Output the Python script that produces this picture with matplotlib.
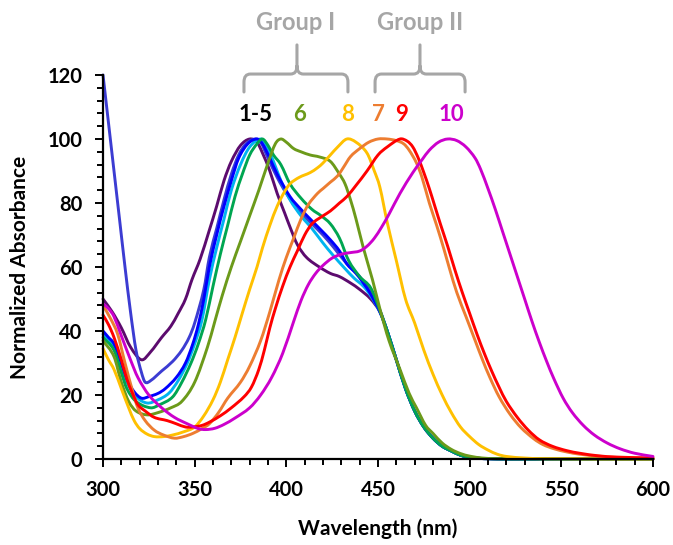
import numpy as np
import matplotlib.pyplot as plt
from matplotlib.path import Path
from matplotlib.patches import PathPatch
from matplotlib.ticker import MultipleLocator

plt.rcParams['font.family'] = ['Lato', 'DejaVu Sans']
plt.rcParams['font.weight'] = 'bold'

# spectra: wavelength (nm) and normalized absorbance
wl_1 = [300, 305, 310, 315, 321, 326, 332, 337, 341, 345, 348.5, 353, 358, 362, 366, 370, 375, 380, 384, 387, 391,
        395, 399, 402, 406, 411, 418, 424, 429, 435, 440, 446, 451, 455, 460, 465, 470, 475, 480, 485, 490, 495,
        500, 505, 510, 520, 600]
abs_1 = [50, 46, 41, 35, 31, 33.5, 38, 41.5, 45.5, 50, 56, 62.5, 71.5, 79, 87, 93, 98, 100, 99, 95.6, 90,
         83, 77, 72.5, 67, 63, 60, 58, 57, 55, 53, 50, 46, 40, 31, 22, 15, 10, 6.5, 4, 2.5, 1.2,
         0.5, 0.2, 0.1, 0, 0]

wl_2 = [300, 303, 306, 309, 312, 315, 318, 321, 323, 326, 332, 338, 343, 347, 350, 355, 358, 362, 366, 370, 374,
        378, 383, 386, 390, 395, 400, 406, 413, 420, 426, 433, 440, 446, 451, 455, 460, 465, 470, 475, 480, 485,
        490, 495, 500, 505, 510, 520, 600]
abs_2 = [120, 105, 90, 75, 60, 46, 34, 27, 24, 24.5, 27.5, 30.5, 34, 38, 42.5, 53, 63, 72, 81, 89, 95,
         98.5, 100, 99, 94, 88, 83, 78, 74, 70, 66, 61, 57, 52, 46.5, 40, 31, 22, 15, 10, 6.5, 4,
         2.5, 1.2, 0.5, 0.2, 0.1, 0, 0]

wl_3 = [300, 303, 306, 310, 313, 317, 321, 325, 330, 334, 340, 345, 349, 352, 355, 358, 362, 366, 370, 374, 379,
        384, 387, 391, 395, 402, 408, 413, 419, 424, 429, 433, 438, 442, 446, 451, 455, 460, 465, 470, 475, 480,
        485, 490, 495, 500, 505, 510, 520, 600]
abs_3 = [40, 38, 36, 30, 25, 21, 19, 19.5, 20.5, 22, 25.5, 30, 36, 42, 50, 60, 70, 79, 87, 94, 98.5,
         100, 98.5, 94, 89, 82, 78, 75, 71.5, 68.5, 65, 61, 58, 55, 51.5, 46, 40, 31, 22, 15, 10, 6.5,
         4, 2.5, 1.2, 0.5, 0.2, 0.1, 0, 0]

wl_4 = [300, 306, 310, 313, 318, 324, 330, 336, 341, 346, 350, 354, 358, 362, 366, 370, 375, 380, 386, 389, 393,
        397, 402, 408, 414, 420, 425, 432, 437, 442, 446, 451, 455, 460, 465, 470, 475, 480, 485, 490, 495, 500,
        505, 510, 520, 600]
abs_4 = [39, 35, 29, 24, 19.5, 17.5, 18.5, 20.6, 24.5, 30, 36, 43.5, 56, 66, 75, 84, 92, 97.5, 100, 98, 93,
         87, 81, 76, 72, 67.5, 64, 59.5, 56.5, 54, 51, 46, 40, 31, 22, 15, 10, 6.5, 4, 2.5, 1.2, 0.5,
         0.2, 0.1, 0, 0]

wl_5 = [300, 306, 310, 313, 318, 326, 331, 338, 343, 348, 352, 356, 360, 364, 368, 372, 376, 380, 384, 387, 390,
        393, 397, 402, 408, 414, 419, 424, 429, 434, 440, 446, 451, 455, 460, 465, 470, 475, 480, 485, 490, 495,
        500, 505, 510, 520, 600]
abs_5 = [38, 34, 27, 22, 18, 16, 17, 19.4, 24, 30, 36, 43.5, 54, 64, 73, 82, 89, 95, 98.5, 100, 98,
         95, 92, 86, 81.5, 78, 76, 73.5, 69, 62, 57, 53.5, 46.5, 40, 31, 22, 15, 10, 6.5, 4, 2.5, 1.2,
         0.5, 0.2, 0.1, 0, 0]

wl_6 = [300, 306, 310, 314, 318, 324, 330, 337, 343, 350, 357, 361, 365, 370, 375, 380, 385, 390, 394, 397, 400,
        404, 408, 413, 418, 424, 429, 432, 435, 438, 442, 447, 451, 456, 462, 467, 471, 476, 480, 485, 490, 495,
        500, 507, 515, 600]
abs_6 = [37, 32, 24, 18, 15, 13.8, 14.5, 16, 18, 24, 35, 43, 51, 60, 68, 76, 84, 92.5, 98.5, 100, 99,
         97, 96, 95, 94.4, 93, 89, 86, 81, 75, 66, 56, 47, 37, 28, 20.5, 16, 10.5, 8, 5, 3, 1.7,
         0.9, 0.3, 0.1, 0]

wl_7 = [300, 304, 308, 312, 316, 319, 323, 328, 333, 339, 344, 349, 354, 358, 363, 368, 375, 380, 386, 391, 396,
        400, 404, 408, 412, 417, 420, 424, 428, 431, 435, 440, 445, 450, 455, 460, 464, 467, 471, 474, 478, 482,
        486, 489, 493, 498, 503, 507, 511, 516, 522, 528, 535, 540, 546, 553, 560, 570, 580, 600]
abs_7 = [48, 44, 39, 30, 21.5, 16, 12, 9, 7.5, 6.5, 7, 8, 9.5, 11, 14.5, 19, 24, 29, 37, 46, 56,
         63, 69, 75, 79.5, 83, 84.5, 86.5, 88.5, 91, 94.5, 97, 99, 100, 100, 99.5, 98.5, 96.5, 92.5, 88, 80, 73,
         65.5, 59.5, 52, 44.5, 37, 31, 25.5, 19.5, 14, 9.8, 6.3, 4.5, 3.2, 2.2, 1.5, 0.9, 0.5, 0.3]

wl_8 = [300, 303, 306, 310, 314, 317, 320, 324, 328, 333, 338, 344, 350, 355, 360, 364, 368, 372, 376, 380, 384,
        387, 391, 395, 399, 402, 407, 413, 417, 420, 424, 428, 433, 438, 444, 448, 451, 455, 460, 465, 470, 475,
        480, 485, 490, 495, 500, 505, 510, 515, 520, 530, 540, 600]
abs_8 = [34.5, 31, 28, 22, 16, 12, 9.5, 7.8, 7, 7, 7.5, 8.5, 10, 13.5, 18.5, 24, 31, 38, 45.6, 53, 60,
         66, 73, 79, 83.5, 86, 88, 89.5, 91, 92.5, 95, 97.5, 100, 99, 95.6, 90, 85, 74, 62, 50, 42.5, 34,
         26.5, 20, 14.5, 10, 7, 4.5, 2.8, 1.5, 0.8, 0.3, 0.1, 0]

wl_9 = [300, 303, 306, 310, 313, 316, 319, 323, 328, 335, 340, 345, 349, 354, 358, 364, 370, 377, 381, 385, 388,
        391, 394, 398, 402, 406, 410, 414, 420, 424, 429, 433, 438, 444, 450, 455, 462, 466, 469, 472, 475, 478,
        481, 484, 488, 492, 496, 500, 504, 508, 512, 516, 520, 526, 532, 538, 545, 553, 560, 570, 580, 600]
abs_9 = [45, 42, 38, 31, 25, 20.6, 17, 15, 13, 12, 11, 10, 10, 10.5, 11.5, 13.5, 16, 19.5, 22.5, 28, 34,
         41, 47, 54, 60, 65, 70, 73.5, 76, 77.5, 80, 82, 85.5, 90, 95, 97.5, 100, 99.3, 97.5, 94, 89.5, 84.5,
         79, 73.5, 66.5, 59, 52, 45.5, 39, 33, 27.5, 22.5, 18, 13, 9, 6, 4, 2.6, 1.8, 1, 0.6, 0.3]

wl_10 = [300, 303, 306, 310, 315, 319, 325, 332, 339, 346, 352, 356, 361, 366, 372, 380, 386, 392, 398, 404, 408,
         412, 416, 420, 425, 430, 435, 440, 444, 448, 452, 456, 462, 469, 474, 478, 483, 488, 493, 498, 503, 506,
         510, 514, 518, 522, 526, 530, 534, 538, 542, 546, 551, 556, 562, 568, 575, 582, 590, 600]
abs_10 = [48.5, 47, 44.5, 38.5, 31, 25.5, 20, 16, 13, 11, 9.5, 9.2, 9.6, 10.8, 12.8, 16, 20, 25.5, 33, 43, 49.5,
          54.5, 58, 60.5, 62.8, 64, 64.5, 65, 66.5, 69, 72.5, 76.5, 83, 89.5, 93.5, 96.5, 99, 100, 99.5, 97.5, 94,
          90.5, 84.5, 78, 71, 64, 57, 50, 43, 36.5, 30.5, 25, 19, 14.5, 10.5, 7.5, 5, 3.2, 1.8, 0.8]

series = [
    (wl_1, abs_1, '#5c0b6e'),
    (wl_2, abs_2, '#3c3cd2'),
    (wl_4, abs_4, '#00b4f0'),
    (wl_3, abs_3, '#0000ff'),
    (wl_5, abs_5, '#00a651'),
    (wl_6, abs_6, '#6c9a1a'),
    (wl_8, abs_8, '#ffc000'),
    (wl_7, abs_7, '#ed7d31'),
    (wl_9, abs_9, '#ff0000'),
    (wl_10, abs_10, '#cc00cc'),
]

peak_labels = ['1-5', '6', '8', '7', '9', '10']
peak_label_x = [383, 407, 433.6, 450.5, 462.6, 489.8]
peak_label_colors = ['black', '#6c9a1a', '#ffc000', '#ed7d31', '#ff0000', '#cc00cc']


def smooth_path(x, y):
    # smoothed line (like a spreadsheet "smoothed line") through the given points
    x = np.asarray(x, float)
    y = np.asarray(y, float)
    n = len(x)
    m = np.empty(n)
    m[0] = (y[1] - y[0]) / (x[1] - x[0])
    m[-1] = (y[-1] - y[-2]) / (x[-1] - x[-2])
    m[1:-1] = (y[2:] - y[:-2]) / (x[2:] - x[:-2])
    verts = [(x[0], y[0])]
    codes = [Path.MOVETO]
    for i in range(n - 1):
        h = (x[i + 1] - x[i]) / 3
        verts += [(x[i] + h, y[i] + m[i] * h), (x[i + 1] - h, y[i + 1] - m[i + 1] * h), (x[i + 1], y[i + 1])]
        codes += [Path.CURVE4] * 3
    return Path(verts, codes)


fig = plt.figure(figsize=(6.73, 5.45), dpi=100)
ax = fig.add_axes([103 / 673, 1 - 459 / 545, 550 / 673, 384 / 545])

for x, y, c in series:
    ax.add_patch(PathPatch(smooth_path(x, y), fill=False, edgecolor=c, lw=2.1, clip_on=False,
                           capstyle='round', joinstyle='round'))

ax.set_xlim(300, 600)
ax.set_ylim(0, 120)
ax.xaxis.set_major_locator(MultipleLocator(50))
ax.xaxis.set_minor_locator(MultipleLocator(10))
ax.yaxis.set_major_locator(MultipleLocator(20))
ax.yaxis.set_minor_locator(MultipleLocator(4))
for s in ['top', 'right']:
    ax.spines[s].set_visible(False)
for s in ['left', 'bottom']:
    ax.spines[s].set_linewidth(1.6)
ax.tick_params(which='major', direction='out', length=6, width=1.4, labelsize=14.5)
ax.tick_params(which='minor', direction='out', length=4, width=1.4)
ax.tick_params(axis='x', which='major', pad=9)
ax.tick_params(axis='y', which='major', pad=9)
for lab in ax.get_xticklabels() + ax.get_yticklabels():
    lab.set_fontweight('bold')

ax.set_xlabel('Wavelength (nm)', fontsize=15, fontweight='bold')
ax.set_ylabel('Normalized Absorbance', fontsize=15, fontweight='bold')
ax.xaxis.set_label_coords(0.5, -0.154)
ax.yaxis.set_label_coords(-0.133, 0.5)

for t, x, c in zip(peak_labels, peak_label_x, peak_label_colors):
    ax.text(x, 107.7, t, color=c, fontsize=16, fontweight='bold', ha='center', va='center', clip_on=False)


def brace(x0, x1, xc, ybot, yh, ytop, rx=3.5, ry=2.5):
    verts = [(x0, ybot), (x0, yh - ry), (x0, yh), (x0 + rx, yh), (xc - rx, yh), (xc, yh), (xc, yh + ry),
             (xc, ytop),
             (x1, ybot), (x1, yh - ry), (x1, yh), (x1 - rx, yh), (xc + rx, yh), (xc, yh), (xc, yh + ry)]
    codes = [Path.MOVETO, Path.LINETO, Path.CURVE3, Path.CURVE3, Path.LINETO, Path.CURVE3, Path.CURVE3,
             Path.LINETO,
             Path.MOVETO, Path.LINETO, Path.CURVE3, Path.CURVE3, Path.LINETO, Path.CURVE3, Path.CURVE3]
    ax.add_patch(PathPatch(Path(verts, codes), fill=False, edgecolor='#a6a6a6', lw=2.2, clip_on=False,
                           capstyle='round'))


brace(376.9, 433.6, 405.8, 114.7, 120.3, 129.4)
brace(448.4, 497.5, 472.9, 114.7, 120.3, 129.4)
ax.text(405.3, 136.3, 'Group I', color='#a6a6a6', fontsize=17, fontweight='bold', ha='center', va='center',
        clip_on=False)
ax.text(472.9, 136.3, 'Group II', color='#a6a6a6', fontsize=17, fontweight='bold', ha='center', va='center',
        clip_on=False)

fig.savefig('out.png', dpi=100)
